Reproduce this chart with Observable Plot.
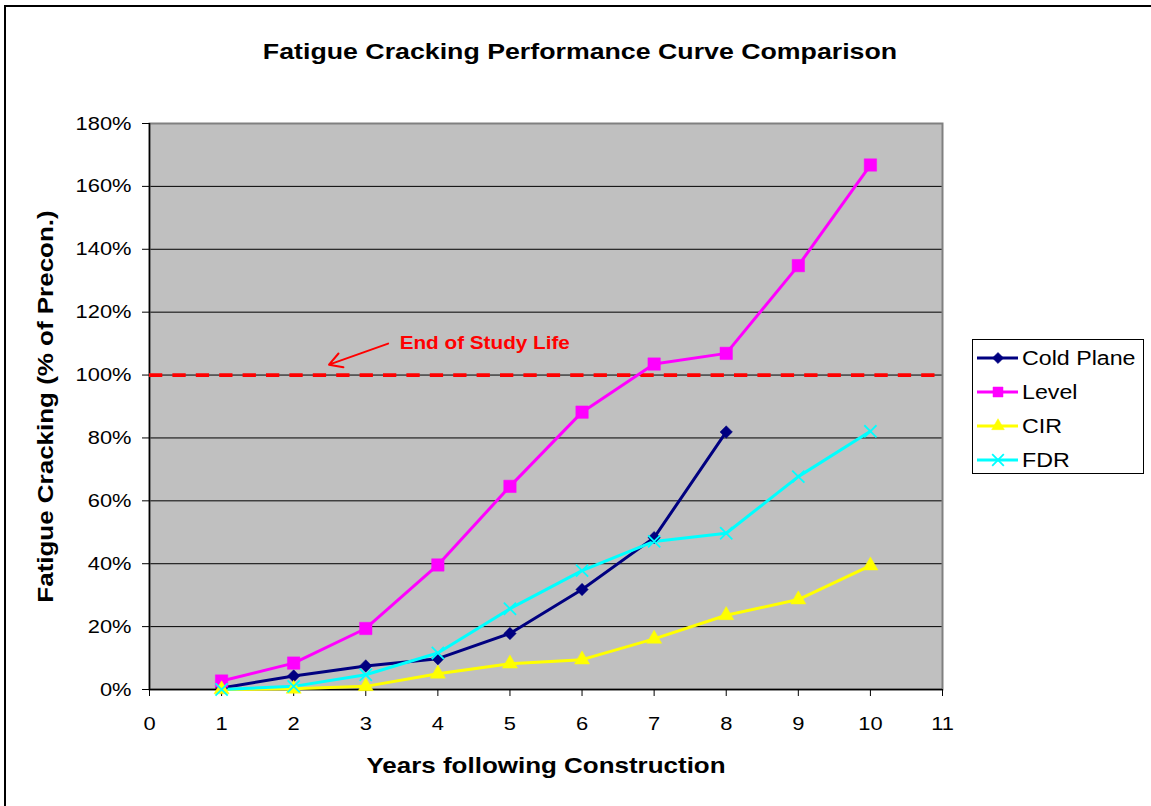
<!DOCTYPE html>
<html>
<head>
<meta charset="utf-8">
<script src="https://cdn.jsdelivr.net/npm/d3@7"></script>
<script src="https://cdn.jsdelivr.net/npm/@observablehq/plot@0.6"></script>
<style>
  html, body { margin: 0; padding: 0; background: #fff; }
  #wrap { position: relative; width: 1151px; height: 806px; overflow: hidden; background: #fff;
          font-family: "Liberation Sans", Arial, sans-serif; }
  #border { position: absolute; left: 4px; top: 5px; width: 1300px; height: 1000px;
            border-left: 2px solid #000; border-top: 2px solid #000; box-sizing: border-box; }
  #title { position: relative; height: 80px; width: 1151px; }
  #title span { position: absolute; top: 41px; left: 580px; line-height: 22px; font-size: 22px; font-weight: bold;
                white-space: nowrap; transform: translateX(-50%) scaleX(1.215); color: #000; }
  #legend { position: absolute; left: 972px; top: 339px; width: 172px; height: 135px; box-sizing: border-box;
            border: 1px solid #000; background: #fff; padding-top: 1px; }
  .row { position: relative; height: 34px; }
  .row svg { position: absolute; left: 0; top: 0; }
  .row span { position: absolute; left: 49px; top: 6px; font-size: 20px; line-height: 22px; white-space: nowrap;
              transform-origin: left center; transform: scaleX(1.16); color: #000; }
  svg g[aria-label="x-axis label"] text, svg g[aria-label="y-axis label"] text { font-weight: bold; font-size: 22px; }
</style>
</head>
<body>
<div id="wrap">
  <div id="border"></div>
  <div id="title"><span></span></div>
  <div id="chart"></div>
  <div id="legend"></div>
</div>
<script>
// ---- data ----
const titleText = "Fatigue Cracking Performance Curve Comparison";
const xLabel = "Years following Construction";
const yLabel = "Fatigue Cracking (% of Precon.)";
const years = [1, 2, 3, 4, 5, 6, 7, 8, 9, 10];
const seriesNames = ["Cold Plane", "Level", "CIR", "FDR"];
const coldPlane = [0.5, 4.3, 7.5, 9.8, 17.8, 31.8, 48.3, 81.9];
const level = [2.7, 8.4, 19.4, 39.6, 64.6, 88.2, 103.5, 106.9, 134.8, 166.8];
const cir = [0, 0.2, 1.0, 5.0, 8.2, 9.5, 16.1, 23.6, 28.6, 39.4];
const fdr = [0, 1.0, 4.7, 11.6, 25.7, 37.8, 47.1, 49.7, 67.7, 82.1];
const seriesColors = ["#000080", "#FF00FF", "#FFFF00", "#00FFFF"];
const seriesSymbols = ["diamond2", "square", "triangle", "times"];
const xTicks = [0, 1, 2, 3, 4, 5, 6, 7, 8, 9, 10, 11];
const yTicks = [0, 20, 40, 60, 80, 100, 120, 140, 160, 180];
const gridValues = [20, 40, 60, 80, 100, 120, 140, 160];
const studyLife = [100];
const annotationText = [{x: 3.47, y: 110, text: "End of Study Life"}];
const annotationArrow = [{x1: 3.31, y1: 110, x2: 2.49, y2: 103.3}];

// ---- build table ----
const seriesValues = [coldPlane, level, cir, fdr];
const rows = [];
seriesNames.forEach((name, i) => {
  seriesValues[i].forEach((v, j) => rows.push({series: name, year: years[j], value: v}));
});

document.querySelector("#title span").textContent = titleText;

const font = '"Liberation Sans", Arial, sans-serif';
const dotR = {"Cold Plane": 5.6, "Level": 7, "CIR": 5.6, "FDR": 5.6};

const marks = [
  Plot.frame({fill: "#c0c0c0", stroke: "none"}),
  Plot.gridY(gridValues, {stroke: "#000", strokeOpacity: 1, strokeWidth: 1}),
  Plot.frame({stroke: "#808080", strokeWidth: 2}),
  Plot.ruleX([0], {stroke: "#000", strokeWidth: 1.5}),
  Plot.ruleY([0], {stroke: "#000", strokeWidth: 1.5}),
  Plot.ruleY(studyLife, {stroke: "#ff0000", strokeWidth: 3.7, strokeDasharray: "13.3,10.1"}),
  Plot.axisX(xTicks, {tickSize: 7, tickPadding: 19.5, fontSize: 19, label: xLabel, labelAnchor: "center",
                      labelOffset: 83, labelArrow: "none"}),
  Plot.axisY(yTicks, {tickSize: 7, tickPadding: 11, fontSize: 19, tickFormat: d => d + "%", label: yLabel,
                      labelAnchor: "center", labelOffset: 112, labelArrow: "none"}),
  Plot.arrow(annotationArrow, {x1: "x1", y1: "y1", x2: "x2", y2: "y2", stroke: "#ff0000", strokeWidth: 2,
                               headLength: 11, bend: 0}),
  Plot.text(annotationText, {x: "x", y: "y", text: "text", textAnchor: "start", fill: "#ff0000",
                             fontWeight: "bold", fontSize: 18, ariaLabel: "annotation"}),
  Plot.line(rows, {x: "year", y: "value", z: "series", stroke: "series", strokeWidth: 3})
];
seriesNames.forEach((name, i) => {
  const sym = seriesSymbols[i];
  const isStroke = sym === "times";
  marks.push(Plot.dot(rows.filter(d => d.series === name), {
    x: "year", y: "value", symbol: () => sym, r: dotR[name],
    fill: isStroke ? "none" : seriesColors[i],
    stroke: seriesColors[i], strokeWidth: isStroke ? 1.8 : 0.5
  }));
});

const chart = Plot.plot({
  width: 1151,
  height: 726,
  marginTop: 43,
  marginBottom: 117,
  marginLeft: 149,
  marginRight: 209,
  style: {fontFamily: font, background: "transparent", color: "#000", overflow: "visible"},
  x: {domain: [0, 11]},
  y: {domain: [0, 180]},
  color: {domain: seriesNames, range: seriesColors},
  symbol: {domain: seriesSymbols, range: seriesSymbols},
  marks
});
document.getElementById("chart").appendChild(chart);

// Widen text to match the reference's wide rendering
function stretchTexts(svg) {
  svg.querySelectorAll("text").forEach(t => {
    if (t.querySelector("tspan")) return;
    const g = t.closest("g[aria-label]");
    const lab = g ? g.getAttribute("aria-label") : "";
    let k = 1.15;
    if (lab === "x-axis label" || lab === "y-axis label") k = 1.18;
    else if (lab === "annotation") k = 1.11;
    const len = t.getComputedTextLength();
    t.setAttribute("textLength", (len * k).toFixed(1));
    t.setAttribute("lengthAdjust", "spacingAndGlyphs");
  });
}
stretchTexts(chart);

// ---- legend ----
const legend = d3.select("#legend");
const d3Symbols = {diamond2: d3.symbolDiamond2, square: d3.symbolSquare, triangle: d3.symbolTriangle, times: d3.symbolTimes};
const legendSize = {diamond2: 80, square: 100, triangle: 70, times: 90};
seriesNames.forEach((name, i) => {
  const row = legend.append("div").attr("class", "row");
  const s = row.append("svg").attr("width", 48).attr("height", 34);
  s.append("line").attr("x1", 4).attr("x2", 45).attr("y1", 17).attr("y2", 17)
    .attr("stroke", seriesColors[i]).attr("stroke-width", 3);
  const sym = seriesSymbols[i];
  const isStroke = sym === "times";
  s.append("path").attr("transform", "translate(25,17)")
    .attr("d", d3.symbol(d3Symbols[sym], legendSize[sym])())
    .attr("fill", isStroke ? "none" : seriesColors[i])
    .attr("stroke", seriesColors[i]).attr("stroke-width", isStroke ? 1.8 : 0.5);
  row.append("span").text(name);
});
</script>
</body>
</html>
